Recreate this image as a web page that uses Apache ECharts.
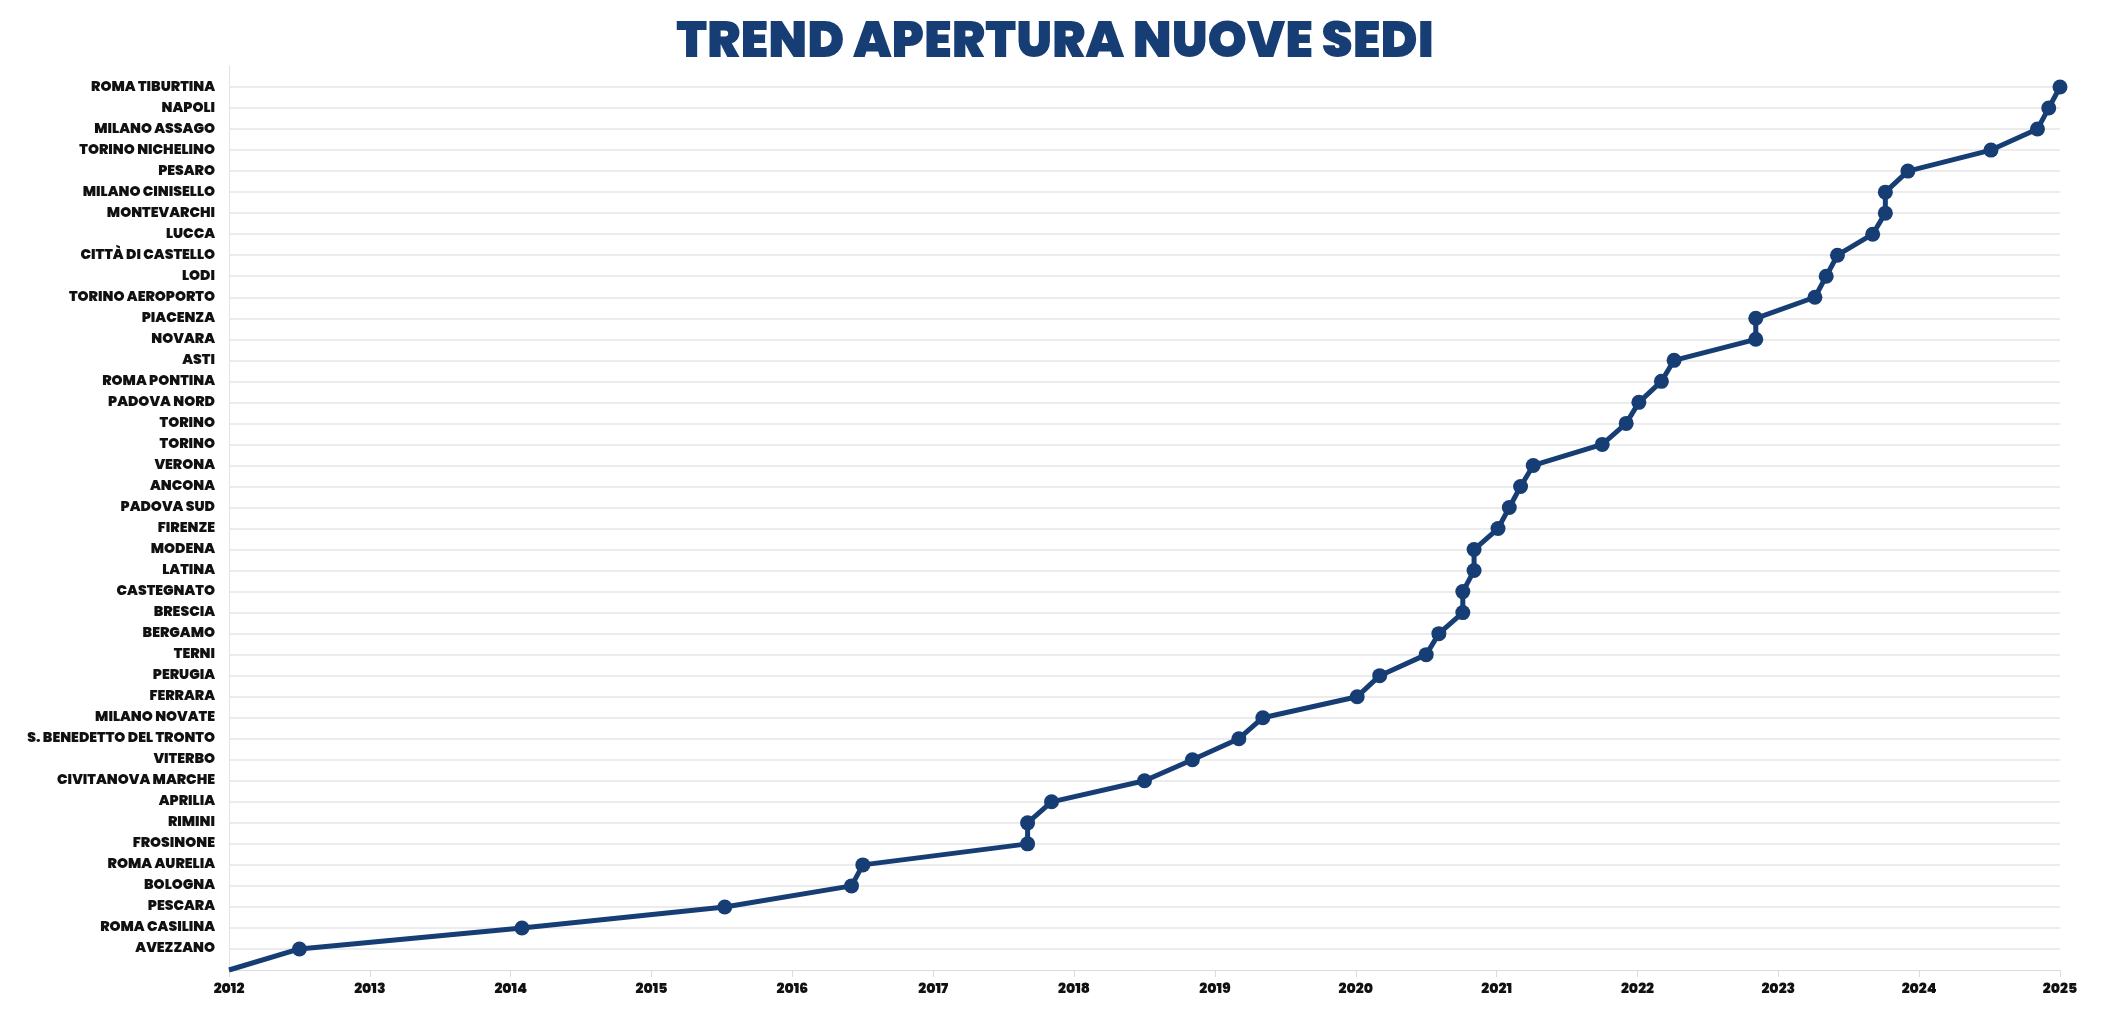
<!DOCTYPE html>
<html>
<head>
<meta charset="utf-8">
<script src="https://cdn.jsdelivr.net/npm/echarts@6/dist/echarts.min.js"></script>
<style>
html,body{margin:0;padding:0;background:#fff;}
#chart{width:2110px;height:1021px;}
</style>
</head>
<body>
<div id="chart"></div>
<script>
// Sedi in ordine di apertura (dal basso verso l'alto)
const sedi = [
  "AVEZZANO","ROMA CASILINA","PESCARA","BOLOGNA","ROMA AURELIA","FROSINONE","RIMINI",
  "APRILIA","CIVITANOVA MARCHE","VITERBO","S. BENEDETTO DEL TRONTO","MILANO NOVATE",
  "FERRARA","PERUGIA","TERNI","BERGAMO","BRESCIA","CASTEGNATO","LATINA","MODENA",
  "FIRENZE","PADOVA SUD","ANCONA","VERONA","TORINO","TORINO","PADOVA NORD",
  "ROMA PONTINA","ASTI","NOVARA","PIACENZA","TORINO AEROPORTO","LODI",
  "CITTÀ DI CASTELLO","LUCCA","MONTEVARCHI","MILANO CINISELLO","PESARO",
  "TORINO NICHELINO","MILANO ASSAGO","NAPOLI","ROMA TIBURTINA"
];
// Data di apertura (anno decimale) per ogni sede, stesso ordine
const aperture = [
  2012.50, 2014.08, 2015.52, 2016.42, 2016.50, 2017.67, 2017.67,
  2017.84, 2018.50, 2018.84, 2019.17, 2019.34,
  2020.01, 2020.17, 2020.50, 2020.59, 2020.76, 2020.76, 2020.84, 2020.84,
  2021.01, 2021.09, 2021.17, 2021.26, 2021.75, 2021.92, 2022.01,
  2022.17, 2022.26, 2022.84, 2022.84, 2023.26, 2023.34,
  2023.42, 2023.67, 2023.76, 2023.76, 2023.92,
  2024.51, 2024.84, 2024.92, 2025.00
];
// Punto di partenza della linea
const inizio = [2012, 0];
const anni = [2012,2013,2014,2015,2016,2017,2018,2019,2020,2021,2022,2023,2024,2025];

const blu = '#173e74';
const font = 'Poppins, Inter, "Noto Sans", sans-serif';

const data = [{value: inizio, symbol: 'none'}].concat(
  aperture.map((x, i) => [x, i + 1])
);

const chart = echarts.init(document.getElementById('chart'));
chart.setOption({
  animation: false,
  backgroundColor: '#ffffff',
  title: {
    text: 'TREND APERTURA NUOVE SEDI',
    left: 'center',
    top: 14,
    textStyle: {
      fontFamily: font,
      fontSize: 50,
      fontWeight: 900,
      color: blu
    }
  },
  grid: {left: 229, right: 50, top: 66, bottom: 51, containLabel: false},
  xAxis: {
    type: 'value',
    min: anni[0],
    max: anni[anni.length - 1],
    interval: 1,
    axisLine: {show: true, lineStyle: {color: '#dcdcdc', width: 1}},
    axisTick: {show: true, length: 7, lineStyle: {color: '#dcdcdc'}},
    splitLine: {show: false},
    axisLabel: {
      margin: 12,
      fontFamily: font,
      fontSize: 14,
      fontWeight: 900,
      color: '#111',
      formatter: v => String(Math.round(v))
    }
  },
  yAxis: {
    type: 'value',
    min: 0,
    max: sedi.length + 1,
    interval: 1,
    axisLine: {show: true, lineStyle: {color: '#e2e2e2', width: 1}},
    axisTick: {show: false},
    splitLine: {show: true, showMinLine: false, showMaxLine: false, lineStyle: {color: '#e6e6e6', width: 1.5}},
    axisLabel: {
      margin: 14,
      fontFamily: font,
      fontSize: 14,
      fontWeight: 900,
      color: '#111',
      showMinLabel: false,
      showMaxLabel: false,
      formatter: v => {
        const i = Math.round(v) - 1;
        return (i >= 0 && i < sedi.length) ? sedi[i] : '';
      }
    }
  },
  series: [{
    type: 'line',
    data: data,
    symbol: 'circle',
    symbolSize: 15,
    lineStyle: {color: blu, width: 5},
    itemStyle: {color: blu},
    clip: false
  }]
});
</script>
</body>
</html>
